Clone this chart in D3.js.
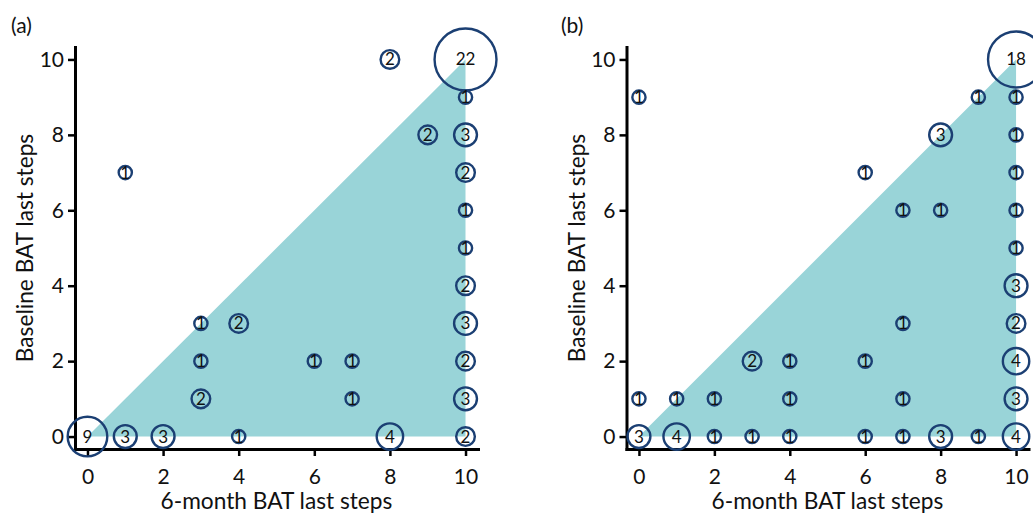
<!DOCTYPE html>
<html><head><meta charset="utf-8">
<script src="https://cdn.jsdelivr.net/npm/d3@7"></script>
<style>
body{margin:0;background:#fff;}
text{font-family:Lato,"Open Sans",sans-serif;}
</style></head>
<body><svg id="c" width="1033" height="513"></svg>
<script>
// Data: [6-month BAT last steps, Baseline BAT last steps, count]
const pointsA = [
  [1,7,1],[8,10,2],[10,10,22],[9,8,2],[10,9,1],[10,8,3],[10,7,2],[10,6,1],[10,5,1],
  [10,4,2],[10,3,3],[10,2,2],[10,1,3],[10,0,2],
  [3,3,1],[4,3,2],[3,2,1],[3,1,2],[0,0,9],[1,0,3],[2,0,3],[4,0,1],
  [6,2,1],[7,2,1],[7,1,1],[8,0,4]
];
const pointsB = [
  [0,9,1],[10,10,18],[9,9,1],[10,9,1],[8,8,3],[10,8,1],[6,7,1],[10,7,1],
  [7,6,1],[8,6,1],[10,6,1],[10,5,1],[10,4,3],[7,3,1],[10,3,2],
  [3,2,2],[4,2,1],[6,2,1],[10,2,4],
  [0,1,1],[1,1,1],[2,1,1],[4,1,1],[7,1,1],[10,1,3],
  [0,0,3],[1,0,4],[2,0,1],[3,0,1],[4,0,1],[6,0,1],[7,0,1],[8,0,3],[9,0,1],[10,0,4]
];
const tickValues = [0,2,4,6,8,10];
const region = [[0,0],[10,10],[10,0]];
const panelLabels = ["(a)","(b)"];
const xTitle = "6-month BAT last steps";
const yTitle = "Baseline BAT last steps";

const svg = d3.select("#c");
const panels = [
  {pts: pointsA, label: panelLabels[0], x0: 75, x1: 478, lx: 11},
  {pts: pointsB, label: panelLabels[1], x0: 626.5, x1: 1028.5, lx: 561}
];
const yTop = 47, yBot = 449;
const r = d3.scaleSqrt().domain([0, 1]).range([0, 6.6]);

panels.forEach(p => {
  const x = d3.scaleLinear().domain([-0.33, 10.33]).range([p.x0, p.x1]);
  const y = d3.scaleLinear().domain([-0.33, 10.33]).range([yBot, yTop]);
  const g = svg.append("g");

  g.append("path")
    .attr("d", d3.line().x(d => x(d[0])).y(d => y(d[1]))(region) + "Z")
    .attr("fill", "#99d4d8");

  const xa = g.append("g").attr("transform", `translate(0,${yBot})`)
    .call(d3.axisBottom(x).tickValues(tickValues).tickSize(7).tickSizeOuter(0).tickPadding(13));
  const ya = g.append("g").attr("transform", `translate(${p.x0},0)`)
    .call(d3.axisLeft(y).tickValues(tickValues).tickSize(7).tickSizeOuter(0).tickPadding(4));
  [xa, ya].forEach(a => {
    a.selectAll("path.domain").attr("stroke", "#000").attr("stroke-width", 3).attr("stroke-linecap","square");
    a.selectAll(".tick line").attr("stroke", "#000").attr("stroke-width", 2.5);
    a.selectAll(".tick text").attr("fill", "#111").style("font-size", "21px").style("font-family","Lato");
  });

  const pg = g.append("g");
  pg.selectAll("circle").data(p.pts).join("circle")
    .attr("cx", d => x(d[0])).attr("cy", d => y(d[1])).attr("r", d => r(d[2]))
    .attr("fill", "none").attr("stroke", "#1b3f73").attr("stroke-width", 2.4);
  pg.selectAll("text").data(p.pts).join("text")
    .attr("x", d => x(d[0])).attr("y", d => y(d[1]) + 6)
    .attr("text-anchor", "middle")
    .style("font-size", "17px").attr("fill", "#111")
    .text(d => d[2]);

  g.append("text").attr("x", (x(0) + x(10)) / 2).attr("y", 509)
    .attr("text-anchor", "middle").style("font-size", "22.7px").attr("fill", "#111").text(xTitle);
  g.append("text").attr("transform", `translate(${p.x0 - 42},${(y(0) + y(10)) / 2}) rotate(-90)`)
    .attr("text-anchor", "middle").style("font-size", "22.7px").attr("fill", "#111").text(yTitle);
  g.append("text").attr("x", p.lx).attr("y", 33).style("font-size", "21px").attr("fill", "#111").text(p.label);
});
</script></body></html>
